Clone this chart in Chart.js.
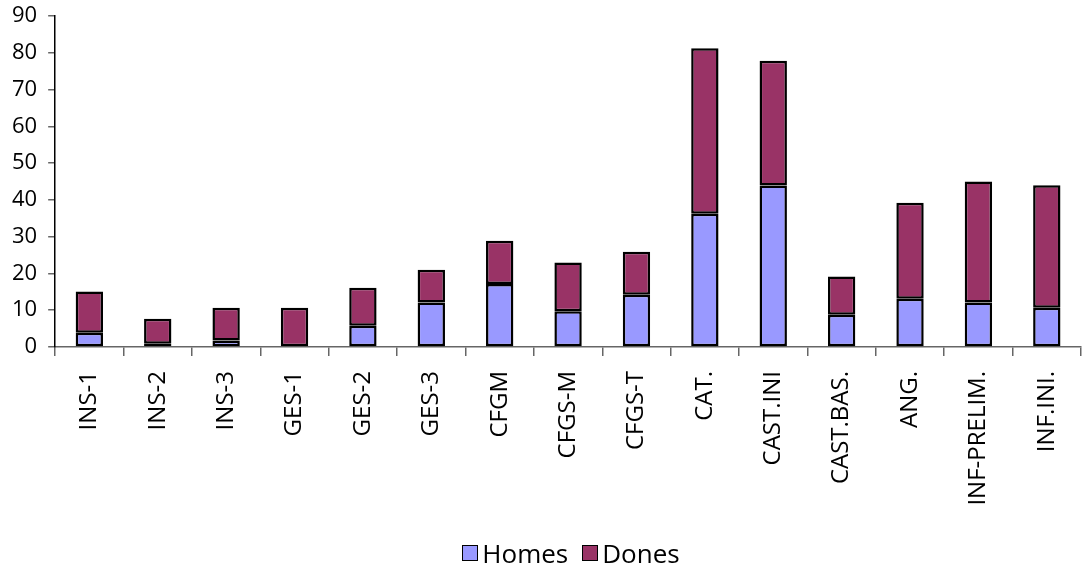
<!DOCTYPE html>
<html>
<head>
<meta charset="utf-8">
<script src="https://cdn.jsdelivr.net/npm/chart.js@4/dist/chart.umd.min.js"></script>
<style>
  html, body { margin: 0; padding: 0; background: #fff; }
  #wrap { position: relative; width: 1082px; height: 569px; }
  #leyenda {
    position: absolute; left: 0; top: 536px; width: 1082px; height: 34px;
    display: flex; justify-content: center; align-items: center;
    padding-left: 60px; box-sizing: border-box;
    font-family: 'Open Sans', 'Noto Sans', sans-serif; font-size: 26px; color: #000;
  }
  .item { display: flex; align-items: center; margin: 0 7px; }
  .caja { width: 14px; height: 14px; border: 1.5px solid #000; margin-right: 4px; }
</style>
</head>
<body>
<div id="wrap">
  <canvas id="grafico"></canvas>
  <div id="leyenda"></div>
</div>
<script>
// categorias y valores
const categorias = ['INS-1', 'INS-2', 'INS-3', 'GES-1', 'GES-2', 'GES-3', 'CFGM', 'CFGS-M', 'CFGS-T',
    'CAT.', 'CAST.INI', 'CAST.BAS.', 'ANG.', 'INF-PRELIM.', 'INF.INI.'];
const homes = [3.9, 0.9, 1.8, 0, 5.8, 12.1, 17.1, 9.7, 14.2, 36.2, 43.9, 8.8, 13.1, 12.1, 10.7];
const dones = [11.2, 6.8, 8.9, 10.7, 10.3, 8.9, 11.8, 13.3, 11.7, 45.0, 33.9, 10.4, 26.1, 32.9, 33.3];
const ticksY = [0, 10, 20, 30, 40, 50, 60, 70, 80, 90];

const fuente = "'Open Sans', 'Noto Sans', sans-serif";

const ctx = document.getElementById('grafico').getContext('2d');

const grafico = new Chart(ctx, {
    type: 'bar',
    data: {
        labels: categorias,
        datasets: [
            { label: 'Homes', data: homes, backgroundColor: '#9999FF', borderColor: '#000', borderWidth: 2.5, borderSkipped: false },
            { label: 'Dones', data: dones, backgroundColor: '#993366', borderColor: '#000', borderWidth: 2.5, borderSkipped: false }
        ]
    },
    options: {
        responsive: true,
        maintainAspectRatio: false,
        animation: false,
        layout: { padding: { top: 16, left: 1, right: 1, bottom: 30 } },
        datasets: { bar: { categoryPercentage: 1, barPercentage: 0.4 } },
        plugins: {
            tooltip: { enabled: false },
            legend: { display: false }
        },
        scales: {
            x: {
                stacked: true,
                border: { color: '#666', width: 1.5 },
                grid: { offset: true, drawOnChartArea: false, drawTicks: true, tickLength: 9, color: '#666', lineWidth: 1.5 },
                ticks: {
                    color: '#000',
                    font: { family: fuente, size: 24 },
                    minRotation: 90,
                    maxRotation: 90,
                    padding: 15,
                    autoSkip: false
                },
                // altura fija del eje y sin relleno extra a los lados
                afterFit: (eje) => { eje.height = 192; eje.paddingLeft = 0; eje.paddingRight = 0; }
            },
            y: {
                stacked: true,
                min: 0,
                max: 90,
                border: { color: '#000', width: 1.5 },
                grid: { drawOnChartArea: false, drawTicks: true, tickLength: 7, color: '#666', lineWidth: 1.5 },
                afterBuildTicks: (eje) => { eje.ticks = ticksY.map(v => ({ value: v })); },
                afterFit: (eje) => { eje.paddingTop = 0; eje.paddingBottom = 0; },
                ticks: {
                    color: '#000',
                    font: { family: fuente, size: 22 },
                    padding: 11
                }
            }
        }
    }
});

// leyenda en html con los mismos colores de los datasets
const leyenda = document.getElementById('leyenda');
grafico.data.datasets.forEach(ds => {
    const item = document.createElement('div');
    item.className = 'item';
    item.innerHTML = `<span class="caja" style="background:${ds.backgroundColor}"></span><span>${ds.label}</span>`;
    leyenda.appendChild(item);
});
</script>
</body>
</html>
